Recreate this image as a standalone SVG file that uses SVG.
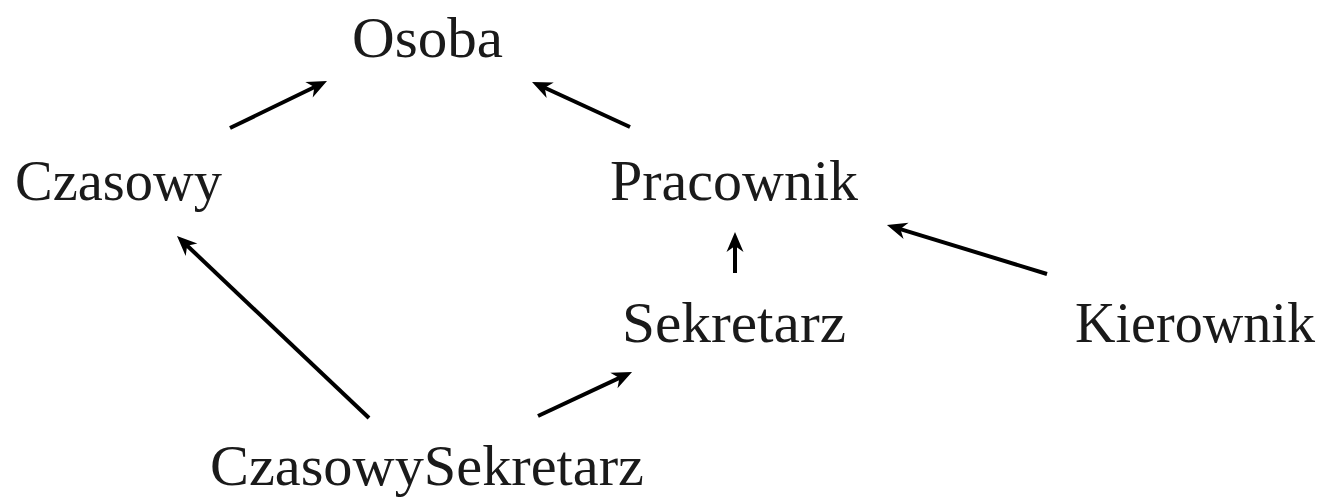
<svg xmlns="http://www.w3.org/2000/svg" width="1322" height="498" viewBox="0 0 1322 498">
  <style>
    .label { font-family: "Liberation Serif", "DejaVu Serif", serif; font-size: 57px; fill: #1a1a1a; }
    .edge { stroke: #000; stroke-width: 4; fill: none; marker-end: url(#head); }
  </style>
  <defs>
    <!-- stealth-style arrowhead; tip sits 8px past the line end -->
    <marker id="head" markerUnits="userSpaceOnUse" viewBox="-14 -10 24 20" refX="0" refY="0" markerWidth="24" markerHeight="20" orient="auto">
      <path d="M8,0 L-12,-8.5 L-6,0 L-12,8.5 Z" fill="#000"/>
    </marker>
  </defs>

  <g id="connectors">
    <line class="edge" x1="230" y1="128" x2="319.8" y2="84.5"/>
    <line class="edge" x1="630" y1="127" x2="539.3" y2="85.3"/>
    <line class="edge" x1="369" y1="418" x2="182.8" y2="241.5"/>
    <line class="edge" x1="735" y1="273" x2="735" y2="240"/>
    <line class="edge" x1="1047" y1="274" x2="894.6" y2="227.3"/>
    <line class="edge" x1="538" y1="416" x2="624.8" y2="375.4"/>
  </g>

  <g id="osoba"><text class="label" x="352" y="57" textLength="151" lengthAdjust="spacingAndGlyphs">Osoba</text></g>
  <g id="czasowy"><text class="label" x="15" y="200" textLength="207" lengthAdjust="spacingAndGlyphs">Czasowy</text></g>
  <g id="pracownik"><text class="label" x="610" y="200" textLength="248" lengthAdjust="spacingAndGlyphs">Pracownik</text></g>
  <g id="sekretarz"><text class="label" x="622" y="342" textLength="224" lengthAdjust="spacingAndGlyphs">Sekretarz</text></g>
  <g id="kierownik"><text class="label" x="1075" y="342" textLength="240" lengthAdjust="spacingAndGlyphs">Kierownik</text></g>
  <g id="czasowysekretarz"><text class="label" x="210" y="485" textLength="434" lengthAdjust="spacingAndGlyphs">CzasowySekretarz</text></g>
</svg>
